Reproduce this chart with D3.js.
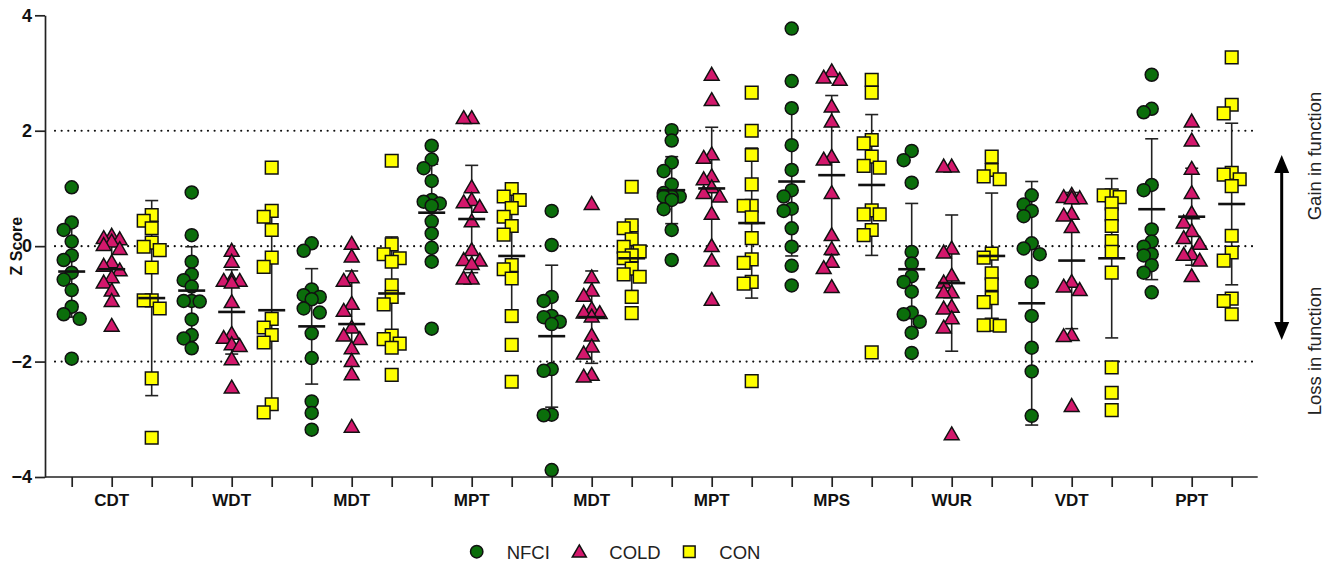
<!DOCTYPE html>
<html>
<head>
<meta charset="utf-8">
<script src="https://cdn.jsdelivr.net/npm/d3@7"></script>
<style>
  html, body { margin: 0; padding: 0; background: #fff; }
  svg { display: block; }
  text { font-family: "Liberation Sans", Arial, sans-serif; }
</style>
</head>
<body>
<svg id="chart" width="1335" height="562"></svg>
<script>
// ---------------- DATA ----------------
const categories = ["CDT", "WDT", "MDT", "MPT", "MDT", "MPT", "MPS", "WUR", "VDT", "PPT"];
const seriesNames = ["NFCI", "COLD", "CON"];
const yTicks = [-4, -2, 0, 2, 4];
const refLines = [2, 0, -2];

const nfci = [
  [1.02, 0.41, 0.28, 0.08, -0.16, -0.24, -0.46, -0.58, -0.76, -1.05, -1.18, -1.26, -1.95],
  [0.93, 0.19, -0.27, -0.49, -0.59, -0.70, -0.95, -0.96, -0.95, -1.27, -1.54, -1.60, -1.77],
  [0.05, -0.08, -0.75, -0.85, -0.88, -0.92, -1.08, -1.15, -1.51, -1.94, -2.69, -2.89, -3.18],
  [1.74, 1.50, 1.35, 1.13, 0.80, 0.77, 0.74, 0.70, 0.43, 0.22, -0.03, -0.27, -1.43],
  [0.61, 0.02, -0.88, -0.95, -1.21, -1.23, -1.31, -1.35, -2.13, -2.16, -2.92, -2.93, -3.88],
  [2.01, 1.83, 1.45, 1.30, 1.07, 0.92, 0.86, 0.86, 0.86, 0.80, 0.64, 0.28, -0.24],
  [3.77, 2.86, 2.39, 1.75, 1.32, 0.97, 0.86, 0.65, 0.61, 0.31, -0.01, -0.34, -0.68],
  [1.65, 1.49, 1.10, -0.10, -0.30, -0.52, -0.62, -0.79, -1.15, -1.18, -1.31, -1.50, -1.85],
  [0.88, 0.72, 0.61, 0.52, 0.05, -0.04, -0.14, -0.62, -1.21, -1.76, -2.17, -2.94],
  [2.97, 2.38, 2.32, 1.06, 0.97, 0.29, 0.08, -0.01, -0.14, -0.16, -0.33, -0.46, -0.80]
];
const cold = [
  [0.16, 0.12, 0.10, 0.06, 0.00, -0.07, -0.30, -0.36, -0.44, -0.56, -0.65, -0.79, -0.97, -1.40],
  [-0.10, -0.29, -0.60, -0.62, -0.62, -0.65, -0.99, -1.54, -1.61, -1.72, -1.75, -1.98, -2.47],
  [0.02, -0.20, -0.56, -0.62, -1.02, -1.14, -1.43, -1.57, -1.63, -1.79, -2.01, -2.24, -3.15],
  [2.20, 2.20, 1.00, 0.78, 0.74, 0.66, 0.41, -0.09, -0.26, -0.27, -0.33, -0.58, -0.58],
  [0.71, -0.56, -0.79, -0.88, -1.11, -1.17, -1.18, -1.24, -1.57, -1.76, -1.88, -2.25, -2.28],
  [2.95, 2.51, 1.57, 1.51, 1.19, 1.14, 1.00, 0.90, 0.84, 0.54, -0.02, -0.27, -0.95],
  [3.01, 2.90, 2.86, 2.40, 2.14, 1.53, 1.48, 0.90, 0.17, -0.07, -0.29, -0.40, -0.73],
  [1.36, 1.36, -0.06, -0.13, -0.53, -0.65, -0.82, -0.82, -1.07, -1.10, -1.27, -1.43, -3.28],
  [0.87, 0.83, 0.81, 0.81, 0.54, 0.51, 0.31, -0.64, -0.72, -0.78, -1.56, -1.58, -2.79],
  [2.14, 1.81, 1.32, 0.90, 0.55, 0.39, 0.24, 0.12, 0.02, -0.16, -0.17, -0.27, -0.54]
];
const con = [
  [0.54, 0.44, 0.31, 0.06, -0.01, -0.07, -0.37, -0.94, -0.94, -1.08, -2.29, -3.32],
  [1.36, 0.61, 0.51, 0.28, -0.20, -0.36, -1.26, -1.41, -1.54, -1.67, -2.74, -2.88],
  [1.48, 0.03, -0.14, -0.21, -0.27, -0.68, -0.88, -1.01, -1.55, -1.61, -1.69, -1.76, -2.23],
  [0.99, 0.86, 0.80, 0.66, 0.51, 0.35, 0.20, -0.33, -0.40, -0.56, -1.21, -1.71, -2.35],
  [1.03, 0.36, 0.31, 0.12, -0.01, -0.09, -0.16, -0.21, -0.39, -0.49, -0.53, -0.88, -1.16],
  [2.66, 2.00, 1.58, 1.07, 0.70, 0.70, 0.50, 0.14, -0.23, -0.29, -0.62, -0.65, -2.34],
  [2.88, 2.66, 1.84, 1.78, 1.55, 1.39, 1.36, 0.62, 0.55, 0.55, 0.28, 0.19, -1.84],
  [1.55, 1.32, 1.21, 1.16, -0.13, -0.20, -0.47, -0.66, -0.90, -0.97, -1.36, -1.37, -1.38],
  [0.88, 0.88, 0.85, 0.74, 0.55, 0.35, 0.09, -0.10, -0.46, -2.10, -2.54, -2.84],
  [3.27, 2.45, 2.30, 1.27, 1.24, 1.16, 1.04, 0.18, -0.11, -0.25, -0.91, -0.95, -1.18]
];

// mean and SD as drawn in the figure
const nfciMean = [-0.44, -0.77, -1.39, 0.58, -1.56, 0.97, 1.12, -0.40, -0.99, 0.64];
const nfciSD   = [0.79, 0.76, 1.00, 0.84, 1.23, 0.58, 1.29, 1.14, 2.11, 1.22];
const coldMean = [-0.40, -1.14, -1.35, 0.47, -1.23, 1.00, 1.23, -0.64, -0.25, 0.51];
const coldSD   = [0.42, 0.73, 0.92, 0.93, 0.80, 1.06, 1.38, 1.18, 1.18, 0.84];
const conMean  = [-0.90, -1.11, -0.82, -0.17, -0.21, 0.40, 1.06, -0.17, -0.21, 0.73];
const conSD    = [1.69, 1.72, 0.98, 1.15, 0.56, 1.30, 1.22, 1.09, 1.38, 1.40];

// ---------------- CHART ----------------
const svg = d3.select("#chart");
const colors = { NFCI: "#0b6e0b", COLD: "#d3186c", CON: "#ffff00" };
const symbols = { NFCI: d3.symbolCircle, COLD: d3.symbolTriangle, CON: d3.symbolSquare };
const sizes = { NFCI: 133, COLD: 95, CON: 160 };

const series = [
  { name: "NFCI", values: nfci, mean: nfciMean, sd: nfciSD },
  { name: "COLD", values: cold, mean: coldMean, sd: coldSD },
  { name: "CON",  values: con,  mean: conMean,  sd: conSD }
];

const nCols = categories.length * seriesNames.length;
const x = d3.scalePoint().domain(d3.range(nCols)).range([71.7, 1231.7]);
const y = d3.scaleLinear().domain([-4, 4]).range([477, 15.3]);

const axisLeftX = 45, axisRightX = 1257.7;

// reference dotted lines
svg.append("g").selectAll("line").data(refLines).join("line")
  .attr("x1", axisLeftX + 10).attr("x2", axisRightX)
  .attr("y1", d => y(d)).attr("y2", d => y(d))
  .attr("stroke", "#111").attr("stroke-width", 2.2)
  .attr("stroke-linecap", "round").attr("stroke-dasharray", "0,6.65");

// Y axis
const yAxis = svg.append("g").attr("transform", `translate(${axisLeftX},0)`)
  .call(d3.axisLeft(y).tickValues(yTicks).tickSize(10).tickSizeOuter(0).tickPadding(3).tickFormat(d3.format("d")));
yAxis.select(".domain").attr("stroke", "#222").attr("stroke-width", 1.7);
yAxis.selectAll(".tick line").attr("stroke", "#222").attr("stroke-width", 1.7);
yAxis.selectAll(".tick text").attr("font-size", 18).attr("font-weight", "bold")
  .attr("fill", "#111").style("font-family", '"Liberation Sans", Arial, sans-serif');

// X axis
const xAxis = svg.append("g").attr("transform", `translate(0,${y(-4)})`)
  .call(d3.axisBottom(x).tickSize(10).tickFormat(""));
xAxis.select(".domain").remove();
xAxis.selectAll(".tick line").attr("stroke", "#222").attr("stroke-width", 1.7);
xAxis.append("line").attr("x1", axisLeftX).attr("x2", axisRightX)
  .attr("stroke", "#222").attr("stroke-width", 1.7);

// category labels
svg.append("g").selectAll("text").data(categories).join("text")
  .attr("x", (d, i) => x(i * 3 + 1)).attr("y", 506)
  .attr("text-anchor", "middle").attr("font-size", 17).attr("font-weight", "bold")
  .attr("fill", "#111").text(d => d);

// Y title
svg.append("text").attr("transform", `translate(22,${y(0)}) rotate(-90)`)
  .attr("text-anchor", "middle").attr("font-size", 16).attr("font-weight", "bold")
  .attr("fill", "#111").text("Z Score");

// compact scatter placement (points may overlap slightly, spread at most +-8px)
function swarm(values, cx) {
  const pts = values.map(v => ({ v, py: y(v) })).sort((a, b) => a.py - b.py);
  const placed = [];
  const offsets = [0, -8, 8];
  pts.forEach(p => {
    let best = 0, bestD = -1;
    for (const o of offsets) {
      const dmin = placed.length ? d3.min(placed, q => Math.hypot(q.dx - o, q.py - p.py)) : Infinity;
      if (dmin >= 10) { best = o; bestD = Infinity; break; }
      if (dmin > bestD) { bestD = dmin; best = o; }
    }
    p.dx = best;
    placed.push(p);
  });
  return placed.map(p => ({ v: p.v, px: cx + p.dx, py: p.py }));
}

const barsG = svg.append("g");
const ptsG = svg.append("g");
const meanG = svg.append("g");

categories.forEach((cat, g) => {
  series.forEach((s, si) => {
    const col = g * 3 + si;
    const cx = x(col);
    const m = s.mean[g], sd = s.sd[g];
    barsG.append("line").attr("x1", cx).attr("x2", cx)
      .attr("y1", y(m + sd)).attr("y2", y(m - sd))
      .attr("stroke", "#222").attr("stroke-width", 1.6);
    [m + sd, m - sd].forEach(v => {
      barsG.append("line").attr("x1", cx - 6.5).attr("x2", cx + 6.5)
        .attr("y1", y(v)).attr("y2", y(v))
        .attr("stroke", "#222").attr("stroke-width", 1.6);
    });
    const pts = swarm(s.values[g], cx);
    ptsG.selectAll(null).data(pts).join("path")
      .attr("transform", d => `translate(${d.px},${d.py})`)
      .attr("d", d3.symbol().type(symbols[s.name]).size(sizes[s.name]))
      .attr("fill", colors[s.name]).attr("stroke", "#111").attr("stroke-width", 1.5);
    meanG.append("line").attr("x1", cx - 13.5).attr("x2", cx + 13.5)
      .attr("y1", y(m)).attr("y2", y(m))
      .attr("stroke", "#111").attr("stroke-width", 2.6);
  });
});

// legend
const legendItems = [
  { name: "NFCI", mx: 476.7, tx: 506.7 },
  { name: "COLD", mx: 579.3, tx: 609.3 },
  { name: "CON",  mx: 689.3, tx: 719.3 }
];
const lg = svg.append("g");
lg.selectAll("path").data(legendItems).join("path")
  .attr("transform", d => `translate(${d.mx},${d.name === "COLD" ? 553 : 551.7})`)
  .attr("d", d => d3.symbol().type(symbols[d.name]).size(d.name === "CON" ? 135 : (d.name === "COLD" ? 85 : 120))())
  .attr("fill", d => colors[d.name]).attr("stroke", "#111").attr("stroke-width", 1.5);
lg.selectAll("text").data(legendItems).join("text")
  .attr("x", d => d.tx).attr("y", 558.5)
  .attr("font-size", 18.5).attr("fill", "#222").text(d => d.name);

// right annotation: double arrow
const ax = 1281.7, aTop = 155, aBot = 340;
svg.append("line").attr("x1", ax).attr("x2", ax).attr("y1", aTop + 12).attr("y2", aBot - 12)
  .attr("stroke", "#000").attr("stroke-width", 3);
svg.append("path").attr("d", `M${ax},${aTop} L${ax - 7.5},${aTop + 18} L${ax + 7.5},${aTop + 18} Z`).attr("fill", "#000");
svg.append("path").attr("d", `M${ax},${aBot} L${ax - 7.5},${aBot - 18} L${ax + 7.5},${aBot - 18} Z`).attr("fill", "#000");

svg.append("text").attr("transform", "translate(1321,156) rotate(-90)")
  .attr("text-anchor", "middle").attr("font-size", 18.5).attr("fill", "#222").text("Gain in function");
svg.append("text").attr("transform", "translate(1321,351) rotate(-90)")
  .attr("text-anchor", "middle").attr("font-size", 18.5).attr("fill", "#222").text("Loss in function");
</script>
</body>
</html>
